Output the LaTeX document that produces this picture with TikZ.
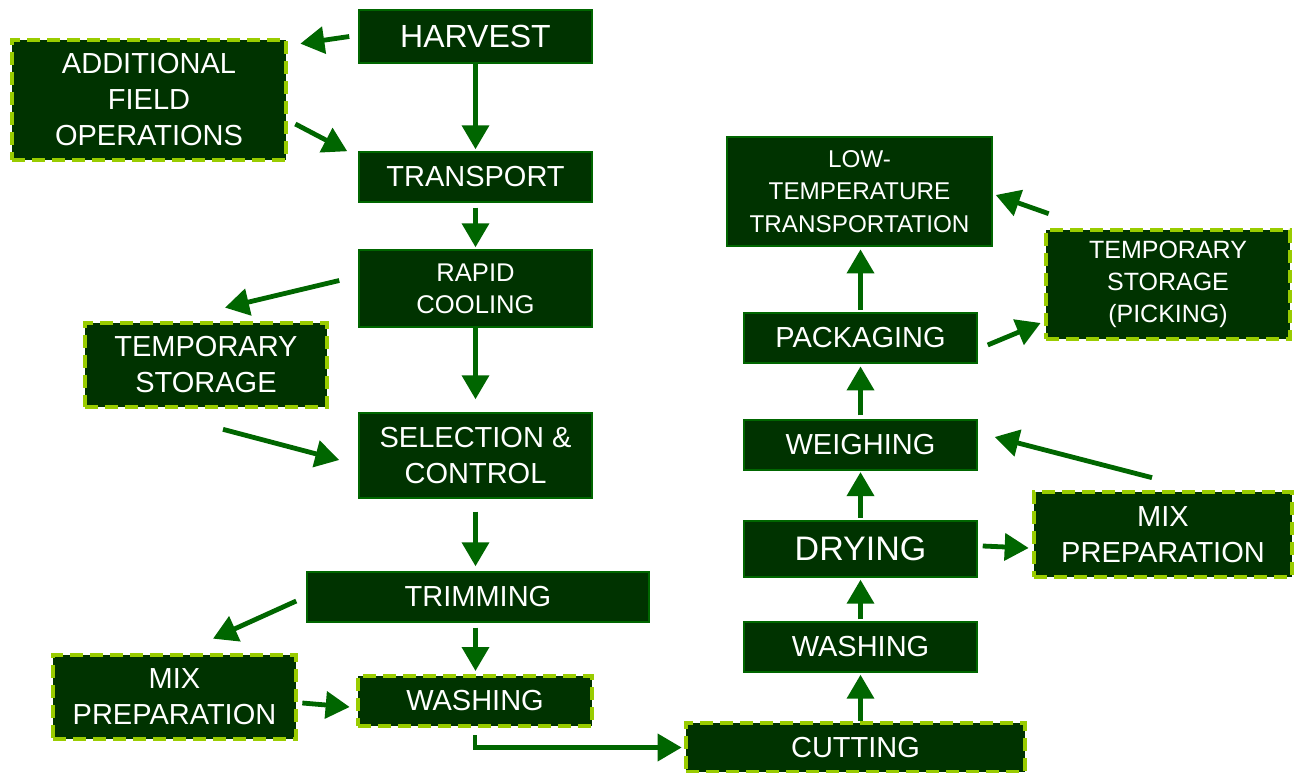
\documentclass[tikz,border=0pt]{standalone}
\usepackage{fontspec}
\setmainfont{Liberation Sans}
\usetikzlibrary{arrows.meta,calc}
\definecolor{dkgreen}{HTML}{003300}
\definecolor{midgreen}{HTML}{006600}
\definecolor{limeg}{HTML}{99CC00}
\begin{document}
\begin{tikzpicture}[x=0.75pt,y=-0.75pt,
  proc/.style={fill=dkgreen, draw=midgreen, line width=1.1pt, text=white, align=center, inner sep=0pt,
    font=\fontsize{21.75pt}{27pt}\selectfont},
  dbox/.style={proc, draw=limeg, line width=3.5pt, dash pattern=on 10pt off 5pt},
  arr/.style={draw=midgreen, line width=3.6pt, -{Triangle[length=18pt,width=20pt]}},
  sz/.style 2 args={minimum width=#1*0.75pt, minimum height=#2*0.75pt}
]
\useasboundingbox (0,0) rectangle (1295,773);

% left column
\node[proc, sz={233}{53}, font=\fontsize{24pt}{29pt}\selectfont] (harvest) at (475.5,36.5) {HARVEST};
\node[dbox, sz={274}{120}] (addl) at (149,100) {ADDITIONAL\\FIELD\\OPERATIONS};
\node[proc, sz={233}{50}] (transport) at (475.5,177) {TRANSPORT};
\node[proc, sz={233}{77}, font=\fontsize{19.2pt}{23.8pt}\selectfont] (rapid) at (475.5,288.5) {RAPID\\COOLING};
\node[dbox, sz={242}{84}] (temp) at (206,365) {TEMPORARY\\STORAGE};
\node[proc, sz={233}{85}] (select) at (475.5,455.5) {SELECTION \&\\CONTROL};
\node[proc, sz={342}{50}] (trim) at (478,597) {TRIMMING};
\node[dbox, sz={243}{84}] (mixL) at (174.5,697) {MIX\\PREPARATION};
\node[dbox, sz={234}{50}] (washL) at (475,701) {WASHING};
\node[dbox, sz={339}{49}] (cut) at (855.5,747.5) {CUTTING};

% right column
\node[proc, sz={233}{50}] (washR) at (860.5,647) {WASHING};
\node[proc, sz={233}{56}, font=\fontsize{25.5pt}{30pt}\selectfont] (dry) at (860.5,549) {DRYING};
\node[proc, sz={233}{50}] (weigh) at (860.5,445) {WEIGHING};
\node[proc, sz={233}{50}] (pack) at (860.5,338) {PACKAGING};
\node[proc, sz={265}{109}, font=\fontsize{18.2pt}{24.4pt}\selectfont] (low) at (859.5,191.5) {LOW-\\TEMPERATURE\\TRANSPORTATION};
\node[dbox, sz={244}{109}, font=\fontsize{18.75pt}{23.8pt}\selectfont] (pick) at (1168,284.5) {TEMPORARY\\STORAGE\\(PICKING)};
\node[dbox, sz={258}{85}] (mixR) at (1163,534.5) {MIX\\PREPARATION};

% connectors, left
\draw[arr] ($(harvest.west)+(-9,0)$) -- ($(addl.north east)+(12,6)$);
\draw[arr] ($(addl.east)+(7,24)$) -- ($(transport.north west)+(-11,0)$);
\draw[arr, shorten >=1.5pt] (harvest.south) -- (transport.north);
\draw[arr, shorten <=3.75pt, shorten >=1.5pt] (transport.south) -- (rapid.north);
\draw[arr] ($(rapid.west)+(-19,-8)$) -- ($(temp.north)+(19,-13)$);
\draw[arr, shorten >=9.75pt] (rapid.south) -- (select.north);
\draw[arr] ($(temp.south)+(17,20)$) -- ($(select.west)+(-19,4.5)$);
\draw[arr, shorten <=9.75pt, shorten >=3.75pt] (select.south) -- (trim.north -| select.south);
\draw[arr, shorten <=3.75pt, shorten >=2pt] (trim.south -| select.south) -- (washL.north -| select.south);
\draw[arr] ($(trim.west)+(-10,4)$) -- ($(mixL.north)+(38.5,-14)$);
\draw[arr] ($(mixL.east)+(4,6)$) -- ($(washL.west)+(-6,6)$);
\draw[arr, shorten <=5pt, shorten >=1.5pt] (washL.south) |- (cut.west);

% connectors, right
\draw[arr, shorten >=1.5pt] (washR.south |- cut.north) -- (washR.south);
\draw[arr, shorten <=1.5pt, shorten >=1.5pt] (washR.north) -- (dry.south);
\draw[arr, shorten <=2pt, shorten >=1pt] (dry.north) -- (weigh.south);
\draw[arr, shorten <=3pt, shorten >=2pt] (weigh.north) -- (pack.south);
\draw[arr, shorten <=2pt, shorten >=2pt] (pack.north) -- (low.south -| pack.north);
\draw[arr] ($(dry.east)+(5,-3)$) -- ($(mixR.west)+(-3,13.5)$);
\draw[arr] ($(mixR.north)+(-11,-12)$) -- ($(weigh.east)+(17,-8)$);
\draw[arr] ($(pack.east)+(10,7)$) -- ($(pick.west)+(-3,38.5)$);
\draw[arr] ($(pick.north west)+(5,-14)$) -- ($(low.east)+(3,3.5)$);
\end{tikzpicture}
\end{document}
